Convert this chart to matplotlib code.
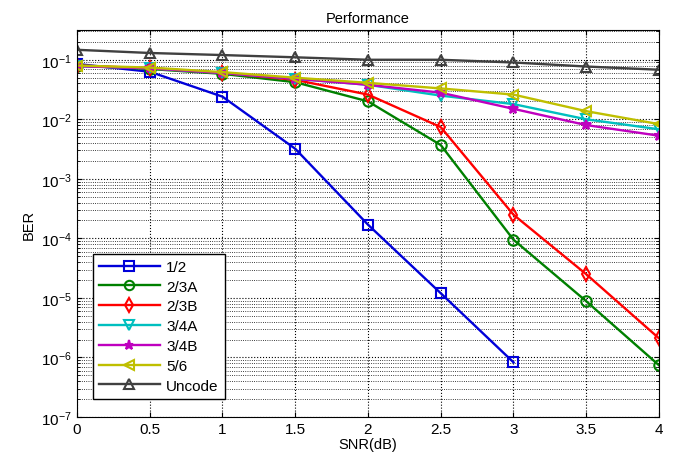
import matplotlib
matplotlib.use("Agg")
import matplotlib.pyplot as plt
from matplotlib.ticker import NullFormatter, FixedLocator
import numpy as np

snr = [0, 0.5, 1, 1.5, 2, 2.5, 3, 3.5, 4]
snr_half = [0, 0.5, 1, 1.5, 2, 2.5, 3]

ber_12 = [0.085, 0.063, 0.024, 0.0032, 1.7e-4, 1.2e-5, 8.3e-7]
ber_23a = [0.08, 0.07, 0.058, 0.042, 0.02, 0.0037, 9.5e-5, 8.8e-6, 7.4e-7]
ber_23b = [0.08, 0.072, 0.06, 0.046, 0.026, 0.0074, 2.5e-4, 2.5e-5, 2.1e-6]
ber_34a = [0.078, 0.072, 0.06, 0.048, 0.038, 0.025, 0.018, 0.0100, 0.0068]
ber_34b = [0.078, 0.072, 0.06, 0.048, 0.038, 0.028, 0.015, 0.0080, 0.0053]
ber_56 = [0.08, 0.074, 0.062, 0.05, 0.041, 0.033, 0.026, 0.0137, 0.0083]
ber_unc = [0.147, 0.13, 0.12, 0.11, 0.1, 0.1, 0.09, 0.077, 0.068]

labels = ["1/2", "2/3A", "2/3B", "3/4A", "3/4B", "5/6", "Uncode"]
y_ticks = [1e-7, 1e-6, 1e-5, 1e-4, 1e-3, 1e-2, 1e-1]

plt.rcParams['font.family'] = ['Liberation Sans', 'DejaVu Sans']

fig = plt.figure(figsize=(6.79, 4.64), dpi=100)
ax = fig.add_axes([0.1134, 0.0991, 0.8571, 0.8341])

series = [
    (snr_half, ber_12, (0, 0, 0.85), 's', 'none'),
    (snr, ber_23a, (0, 0.5, 0), 'o', 'none'),
    (snr, ber_23b, (1, 0, 0), 'd', 'none'),
    (snr, ber_34a, (0, 0.75, 0.75), 'v', 'none'),
    (snr, ber_34b, (0.75, 0, 0.75), '*', None),
    (snr, ber_56, (0.75, 0.75, 0), '<', 'none'),
    (snr, ber_unc, (0.25, 0.25, 0.25), '^', 'none'),
]
for (x, y, c, m, mfc), lab in zip(series, labels):
    kw = dict(color=c, marker=m, linewidth=1.7, markersize=7.5, markeredgewidth=1.5, label=lab)
    if mfc is not None:
        kw['markerfacecolor'] = mfc
    ax.semilogy(x, y, **kw)

ax.set_xlim(0, 4)
ax.set_ylim(1e-7, 10 ** -0.5)
ax.set_xticks([0, 0.5, 1, 1.5, 2, 2.5, 3, 3.5, 4])
ax.set_xticklabels(["0", "0.5", "1", "1.5", "2", "2.5", "3", "3.5", "4"])
ax.set_yticks(y_ticks)
minor = [m * d for d in y_ticks for m in range(2, 10) if m * d <= 10 ** -0.5]
ax.yaxis.set_minor_locator(FixedLocator(minor))
ax.yaxis.set_minor_formatter(NullFormatter())
ax.grid(True, which='major', linestyle=':', color='black', linewidth=0.8)
ax.grid(True, which='minor', linestyle=':', color='black', linewidth=0.6)
ax.tick_params(which='both', direction='in', top=True, right=True, labelsize=11)
ax.set_title("Performance", fontsize=10.5)
ax.set_xlabel("SNR(dB)", fontsize=10.5, labelpad=1)
ax.set_ylabel("BER", fontsize=10.5)

leg = ax.legend(loc='lower left', bbox_to_anchor=(0.027, 0.047), fontsize=11,
                fancybox=False, edgecolor='black', framealpha=1, borderaxespad=0,
                handlelength=4.0, handletextpad=0.4, labelspacing=0.38,
                markerscale=0.9, borderpad=0.4)
leg.get_frame().set_linewidth(1.0)

fig.savefig("out.png", dpi=100)
